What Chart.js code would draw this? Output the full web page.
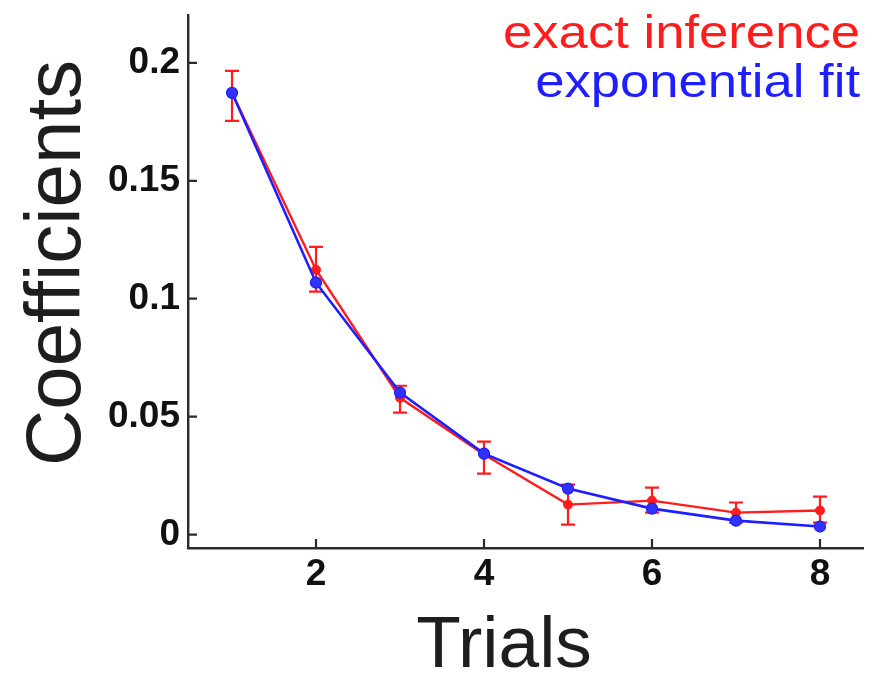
<!DOCTYPE html>
<html>
<head>
<meta charset="utf-8">
<script src="https://cdn.jsdelivr.net/npm/chart.js@4/dist/chart.umd.min.js"></script>
<style>
  html, body { margin: 0; padding: 0; background: #fff; }
  canvas { display: block; }
</style>
</head>
<body>
<canvas id="coefChart" width="878" height="674"></canvas>
<script>
// trial numbers and coefficient values
const trials = [1, 2, 3, 4, 5, 6, 7, 8];
const exactInference = [0.1873, 0.1123, 0.058, 0.0339, 0.0127, 0.0144, 0.0093, 0.0102];
const exactUpper = [0.1966, 0.122, 0.0631, 0.0394, 0.0212, 0.0199, 0.0136, 0.0161];
const exactLower = [0.1754, 0.103, 0.0517, 0.0258, 0.0042, 0.0093, 0.0051, 0.0051];
const exponentialFit = [0.1873, 0.1068, 0.0602, 0.0343, 0.0195, 0.011, 0.0059, 0.0034];

const xTicks = [2, 4, 6, 8];
const yTicks = [0, 0.05, 0.1, 0.15, 0.2];
const yTickLabels = ['0', '0.05', '0.1', '0.15', '0.2'];

const RED = 'rgb(255, 28, 28)';
const BLUE = 'rgb(30, 30, 255)';
const AXIS = '#2b2b2b';

// error bars for the exact inference series
const errorBars = {
  id: 'errorBars',
  beforeDatasetsDraw(chart) {
    const ctx = chart.ctx;
    const xs = chart.scales.x, ys = chart.scales.y;
    ctx.save();
    ctx.strokeStyle = RED;
    ctx.lineWidth = 2.2;
    trials.forEach((t, i) => {
      const px = xs.getPixelForValue(t);
      const top = ys.getPixelForValue(exactUpper[i]);
      const bot = ys.getPixelForValue(exactLower[i]);
      ctx.beginPath();
      ctx.moveTo(px, top); ctx.lineTo(px, bot);
      ctx.moveTo(px - 7, top); ctx.lineTo(px + 7, top);
      ctx.moveTo(px - 7, bot); ctx.lineTo(px + 7, bot);
      ctx.stroke();
    });
    ctx.restore();
  }
};

// inward tick marks, axis titles and the text legend
const decorations = {
  id: 'decorations',
  afterDraw(chart) {
    const ctx = chart.ctx;
    const xs = chart.scales.x, ys = chart.scales.y;
    const area = chart.chartArea;
    ctx.save();
    ctx.strokeStyle = AXIS;
    ctx.lineWidth = 2.2;
    ctx.beginPath();
    xTicks.forEach(v => {
      const px = xs.getPixelForValue(v);
      ctx.moveTo(px, area.bottom); ctx.lineTo(px, area.bottom - 9);
    });
    yTicks.forEach(v => {
      const py = ys.getPixelForValue(v);
      ctx.moveTo(area.left, py); ctx.lineTo(area.left + 9, py);
    });
    ctx.stroke();

    ctx.fillStyle = '#1e1e1e';
    ctx.font = '73px "Liberation Sans", Arial, sans-serif';
    ctx.textAlign = 'center';
    ctx.textBaseline = 'alphabetic';
    ctx.fillText('Trials', 504, 667);

    ctx.save();
    ctx.translate(80, 263);
    ctx.rotate(-Math.PI / 2);
    ctx.font = '78px "Liberation Sans", Arial, sans-serif';
    ctx.fillText('Coefficients', 0, 0);
    ctx.restore();

    ctx.font = '47px "Liberation Sans", Arial, sans-serif';
    ctx.textAlign = 'right';
    const legendLines = [
      { text: 'exact inference', color: RED, y: 48 },
      { text: 'exponential fit', color: BLUE, y: 97 }
    ];
    legendLines.forEach(l => {
      ctx.save();
      ctx.translate(860, l.y);
      ctx.scale(1.12, 1);
      ctx.fillStyle = l.color;
      ctx.fillText(l.text, 0, 0);
      ctx.restore();
    });
    ctx.restore();
  }
};

const toPoints = vals => trials.map((t, i) => ({ x: t, y: vals[i] }));

new Chart(document.getElementById('coefChart'), {
  type: 'line',
  data: {
    datasets: [
      {
        label: 'exact inference',
        data: toPoints(exactInference),
        borderColor: RED,
        backgroundColor: RED,
        borderWidth: 2.4,
        pointRadius: 4.5,
        pointBorderWidth: 1,
        tension: 0,
        order: 2
      },
      {
        label: 'exponential fit',
        data: toPoints(exponentialFit),
        borderColor: BLUE,
        backgroundColor: 'rgb(50, 50, 255)',
        borderWidth: 2.6,
        pointRadius: 5.5,
        pointBorderWidth: 1.2,
        tension: 0,
        order: 1
      }
    ]
  },
  options: {
    responsive: false,
    animation: false,
    layout: { padding: { top: 15, right: 15, left: 0, bottom: 0 } },
    plugins: {
      legend: { display: false },
      tooltip: { enabled: false }
    },
    scales: {
      x: {
        type: 'linear',
        min: 0.476,
        max: 8.512,
        afterFit: s => { s.height = 126; s.paddingLeft = 0; s.paddingRight = 0; },
        afterBuildTicks: s => { s.ticks = xTicks.map(v => ({ value: v })); },
        grid: { display: false, drawTicks: false },
        border: { display: true, color: AXIS, width: 2.4 },
        ticks: {
          padding: 5,
          color: '#111',
          font: { family: '"Liberation Sans", Arial, sans-serif', size: 37, weight: 'bold' },
          maxRotation: 0,
          callback: v => String(v)
        }
      },
      y: {
        type: 'linear',
        min: -0.0057,
        max: 0.2203,
        afterFit: s => { s.width = 188; s.paddingTop = 0; s.paddingBottom = 0; },
        afterBuildTicks: s => { s.ticks = yTicks.map(v => ({ value: v })); },
        grid: { display: false, drawTicks: false },
        border: { display: true, color: AXIS, width: 2.4 },
        ticks: {
          padding: 8,
          color: '#111',
          font: { family: '"Liberation Sans", Arial, sans-serif', size: 37, weight: 'bold' },
          callback: v => yTickLabels[yTicks.indexOf(v)] ?? String(v)
        }
      }
    }
  },
  plugins: [errorBars, decorations]
});
</script>
</body>
</html>
